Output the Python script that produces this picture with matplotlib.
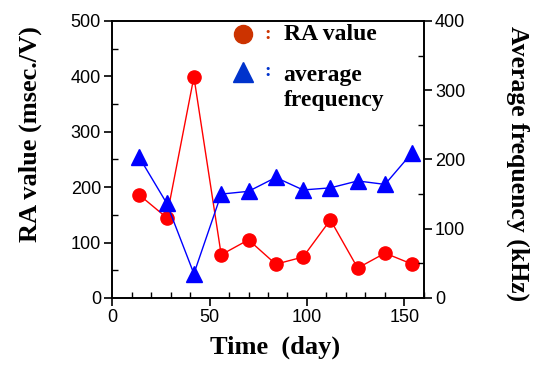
import matplotlib
matplotlib.use("Agg")
import matplotlib.pyplot as plt
from matplotlib.ticker import MultipleLocator

# Data
days = [14, 28, 42, 56, 70, 84, 98, 112, 126, 140, 154]
ra_value = [186, 145, 399, 78, 105, 61, 74, 141, 54, 81, 61]
avg_freq = [203, 137, 35, 150, 154, 174, 156, 159, 169, 164, 210]

serif = "Liberation Serif"
sans = "Liberation Sans"

fig = plt.figure(figsize=(5.36, 3.65), dpi=100)
ax = fig.add_axes([0.209, 0.1836, 0.582, 0.759])
ax2 = ax.twinx()

ax.plot(days, ra_value, color="#ff0000", lw=1.0, marker="o", ms=9.5,
        markeredgecolor="#ff0000", zorder=3)
ax2.plot(days, avg_freq, color="#0000ff", lw=1.0, marker="^", ms=11,
         markeredgecolor="#0000ff", zorder=3)

ax.set_xlim(0, 160)
ax.set_ylim(0, 500)
ax2.set_ylim(0, 400)

ax.xaxis.set_major_locator(MultipleLocator(50))
ax.xaxis.set_minor_locator(MultipleLocator(10))
ax.yaxis.set_major_locator(MultipleLocator(100))
ax.yaxis.set_minor_locator(MultipleLocator(50))
ax2.yaxis.set_major_locator(MultipleLocator(100))
ax2.yaxis.set_minor_locator(MultipleLocator(50))

for a in (ax, ax2):
    for s in a.spines.values():
        s.set_linewidth(1.2)
    a.tick_params(which="major", direction="out", length=6, width=1.2,
                  labelsize=13, pad=2)
    a.tick_params(which="minor", direction="in", length=4, width=1.0)
    for lab in a.get_xticklabels() + a.get_yticklabels():
        lab.set_fontfamily(sans)

ax.set_xlabel("Time  (day)", fontfamily=serif, fontweight="bold", fontsize=19,
              va="center", ha="center")
ax.xaxis.set_label_coords(0.522, -0.177)
ax.set_ylabel("RA value (msec./V)", fontfamily=serif, fontweight="bold",
              fontsize=19, va="center", ha="center")
ax.yaxis.set_label_coords(-0.263, 0.592)
ax2.set_ylabel("Average frequency (kHz)", fontfamily=serif, fontweight="bold",
               fontsize=18.5, rotation=-90, va="center", ha="center")
ax2.yaxis.set_label_coords(1.301, 0.487)

# legend drawn as text and markers
ax.plot([67], [476], marker="o", ms=13, color="#cc3300", clip_on=False)
ax.text(80, 476, ":", color="#cc3300", fontsize=14, fontweight="bold",
        va="center", ha="center", fontfamily=serif)
ax.text(88, 476, "RA value", fontfamily=serif, fontweight="bold", fontsize=17,
        va="center")
ax.plot([67], [408], marker="^", ms=14, color="#0033cc", clip_on=False)
ax.text(80, 408, ":", color="#0033cc", fontsize=14, fontweight="bold",
        va="center", ha="center", fontfamily=serif)
ax.text(88, 421, "average\nfrequency", fontfamily=serif, fontweight="bold",
        fontsize=17, va="top", linespacing=1.25)

fig.savefig("out.png", dpi=100)
